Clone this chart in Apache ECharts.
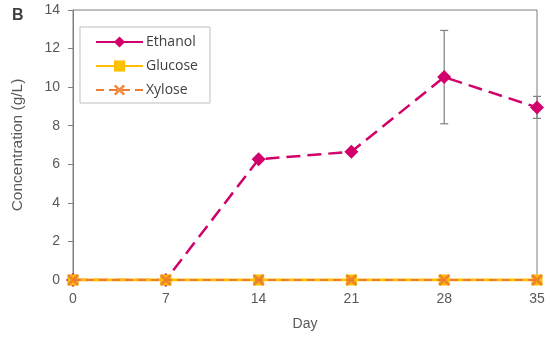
<!DOCTYPE html>
<html><head><meta charset="utf-8">
<script src="https://cdn.jsdelivr.net/npm/echarts@6/dist/echarts.min.js"></script>
<style>html,body{margin:0;padding:0;background:#fff}#c{width:550px;height:341px}</style>
</head><body><div id="c"></div>
<script>
const days = [0, 7, 14, 21, 28, 35];
const ethanol = [0, 0, 6.26, 6.65, 10.52, 8.95];
const ethanolErr = [0, 0, 0, 0, 2.42, 0.57];
const glucose = [0, 0, 0, 0, 0, 0];
const xylose = [0, 0, 0, 0, 0, 0];
const yTicks = [0, 2, 4, 6, 8, 10, 12, 14];

const xPath = 'path://M0,2 L2,0 L6,4 L10,0 L12,2 L8,6 L12,10 L10,12 L6,8 L2,12 L0,10 L4,6 Z';
const font = 'Arial, "Liberation Sans", sans-serif';
const chart = echarts.init(document.getElementById('c'), null, {renderer: 'canvas'});
const pair = (xs, ys) => xs.map((x, i) => [x, ys[i]]);
chart.setOption({
  animation: false,
  backgroundColor: '#fff',
  textStyle: {fontFamily: font},
  title: {text: 'B', left: 7, top: 3, textStyle: {fontSize: 16, fontWeight: 'bold', color: '#404040', fontFamily: font}},
  grid: {left: 73, right: 13, top: 10, bottom: 61, show: true, borderColor: '#7f7f7f', borderWidth: 1},
  legend: {
    orient: 'vertical', left: 80, top: 27, padding: [8, 12, 6, 15],
    borderColor: '#bfbfbf', borderWidth: 1, itemWidth: 47, itemHeight: 14, itemGap: 10,
    textStyle: {fontSize: 14, color: '#404040', fontFamily: '"Open Sans", Arial, sans-serif', padding: [0, 0, 0, -2]},
    data: [
      {name: 'Ethanol', lineStyle: {type: 'solid'}},
      {name: 'Glucose'},
      {name: 'Xylose'}
    ]
  },
  xAxis: {
    type: 'value', min: 0, max: 35, interval: 7,
    name: 'Day', nameLocation: 'middle', nameGap: 37,
    nameTextStyle: {fontSize: 14, color: '#595959', fontFamily: font},
    axisLine: {show: true, lineStyle: {color: '#7f7f7f'}},
    axisTick: {show: false},
    axisLabel: {fontSize: 14, color: '#595959', margin: 12, fontFamily: font,
      formatter: v => days.includes(v) ? String(v) : ''},
    splitLine: {show: false}
  },
  yAxis: {
    type: 'value', min: 0, max: 14, interval: 2,
    name: 'Concentration (g/L)', nameLocation: 'middle', nameGap: 47,
    nameTextStyle: {fontSize: 15.5, color: '#595959', fontFamily: font},
    axisLine: {show: true, lineStyle: {color: '#7f7f7f'}},
    axisTick: {show: true, inside: false, length: 5, lineStyle: {color: '#7f7f7f'}},
    axisLabel: {fontSize: 14, color: '#595959', margin: 13, fontFamily: font,
      formatter: v => yTicks.includes(v) ? String(v) : ''},
    splitLine: {show: false}
  },
  series: [
    {
      name: 'Ethanol', type: 'line', data: pair(days, ethanol), z: 2,
      symbol: 'diamond', symbolSize: 14,
      lineStyle: {color: '#D1006B', width: 2.5, type: [14, 7]},
      itemStyle: {color: '#D1006B'}
    },
    {
      name: 'EthanolErr', type: 'custom', z: 1,
      data: days.map((d, i) => [d, ethanol[i], ethanolErr[i]]),
      renderItem: function (params, api) {
        const e = api.value(2);
        if (!e) return null;
        const x = api.value(0), y = api.value(1);
        const hi = api.coord([x, y + e]), lo = api.coord([x, y - e]);
        const w = 4;
        const st = {stroke: '#7f7f7f', lineWidth: 1.2};
        return {type: 'group', children: [
          {type: 'line', shape: {x1: hi[0], y1: hi[1], x2: lo[0], y2: lo[1]}, style: st},
          {type: 'line', shape: {x1: hi[0] - w, y1: hi[1], x2: hi[0] + w, y2: hi[1]}, style: st},
          {type: 'line', shape: {x1: lo[0] - w, y1: lo[1], x2: lo[0] + w, y2: lo[1]}, style: st}
        ]};
      }
    },
    {
      name: 'Glucose', type: 'line', data: pair(days, glucose), z: 3,
      symbol: 'rect', symbolSize: 11,
      lineStyle: {color: '#FFC000', width: 3},
      itemStyle: {color: '#FFC000'}
    },
    {
      name: 'Xylose', type: 'line', data: pair(days, xylose), z: 4,
      symbol: xPath, symbolSize: 12,
      lineStyle: {color: '#ED7D31', width: 2, type: [8, 5]},
      itemStyle: {color: '#ED7D31', opacity: 0.9}
    }
  ]
});
</script></body></html>
